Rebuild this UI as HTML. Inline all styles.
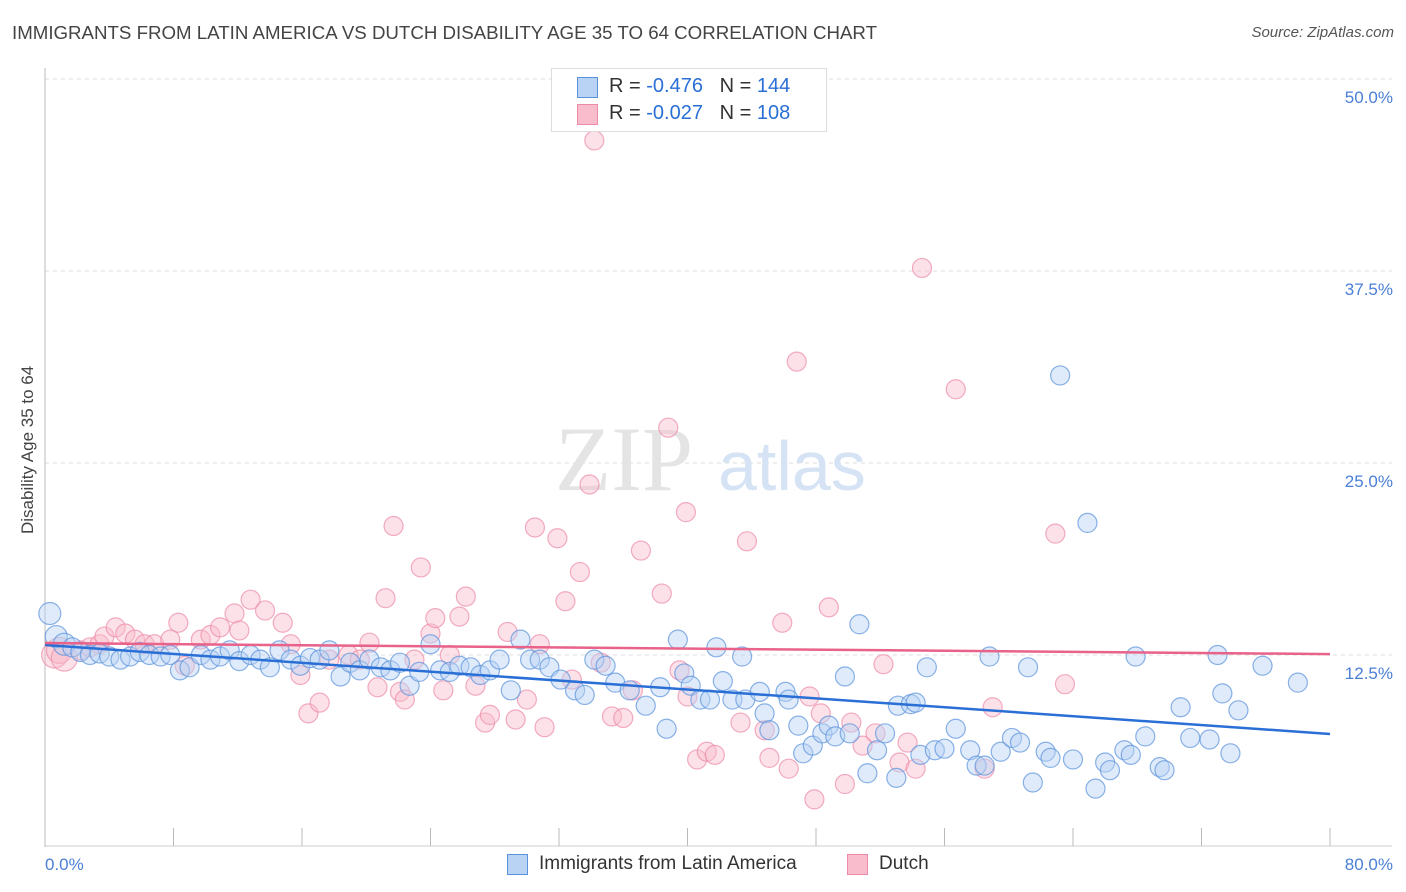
<!DOCTYPE html>
<html><head><meta charset="utf-8">
<style>
body{margin:0;background:#fff;font-family:"Liberation Sans",sans-serif;}
#wrap{position:relative;width:1406px;height:892px;overflow:hidden;}
.t{position:absolute;white-space:nowrap;}
</style></head><body>
<div id="wrap">
<div class="t" style="left:12px;top:22px;font-size:18.7px;color:#444;">IMMIGRANTS FROM LATIN AMERICA VS DUTCH DISABILITY AGE 35 TO 64 CORRELATION CHART</div>
<div class="t" style="right:12px;top:24px;font-size:15px;color:#555;font-style:italic;">Source: ZipAtlas.com</div>
<div class="t" style="left:-52px;top:444px;font-size:17px;color:#444;transform:rotate(-90deg);width:160px;text-align:center;">Disability Age 35 to 64</div>
<svg id="svg" width="1406" height="892" style="position:absolute;left:0;top:0"></svg>
</div>
<script>
const yTicks=[12.5,25,37.5,50];
const yTickLabels=["12.5%","25.0%","37.5%","50.0%"];
const xTickLabels=["0.0%","80.0%"];
const blueX=[0.3,0.7,1.2,1.7,2.2,2.8,3.4,4.0,4.7,5.3,5.9,6.5,7.2,7.8,8.4,9.0,9.7,10.3,10.9,11.5,12.1,12.8,13.4,14.0,14.6,15.3,15.9,16.5,17.1,17.7,18.4,19.0,19.6,20.2,20.9,21.5,22.1,22.7,23.3,24.0,24.6,25.2,25.8,26.5,27.1,27.7,28.3,29.0,29.6,30.2,30.8,31.4,32.1,33.0,33.6,34.2,34.9,35.5,36.4,37.4,38.3,38.7,39.4,39.8,40.2,40.8,41.4,41.8,42.2,42.8,43.6,43.4,44.5,44.8,45.1,46.1,46.3,46.9,47.2,47.8,48.4,48.8,49.2,49.8,50.1,50.7,51.2,51.8,52.3,53.0,53.1,53.9,54.2,54.5,54.9,55.4,56.0,56.7,57.6,58.0,58.5,58.8,59.5,60.2,60.7,61.2,61.5,62.3,62.6,63.2,64.0,64.9,65.4,66.0,66.3,67.2,67.6,67.9,68.5,69.4,69.7,70.7,71.3,72.5,73.0,73.3,73.8,74.3,75.8,78.0];
const blueY=[15.2,13.7,13.2,13.0,12.7,12.5,12.6,12.4,12.2,12.4,12.7,12.5,12.4,12.5,11.5,11.7,12.5,12.2,12.4,12.8,12.1,12.5,12.2,11.7,12.8,12.2,11.8,12.3,12.2,12.8,11.1,12.0,11.5,12.2,11.7,11.5,12.0,10.5,11.4,13.2,11.5,11.4,11.8,11.7,11.2,11.5,12.2,10.2,13.5,12.2,12.2,11.7,10.9,10.2,9.9,12.2,11.8,10.7,10.2,9.2,10.4,7.7,13.5,11.3,10.5,9.6,9.6,13.0,10.8,9.6,9.6,12.4,10.1,8.7,7.6,10.1,9.6,7.9,6.1,6.6,7.4,7.9,7.2,11.1,7.4,14.5,4.8,6.3,7.4,4.5,9.2,9.3,9.4,6.0,11.7,6.3,6.4,7.7,6.3,5.3,5.3,12.4,6.2,7.1,6.8,11.7,4.2,6.2,5.8,30.7,5.7,21.1,3.8,5.5,5.0,6.3,6.0,12.4,7.2,5.2,5.0,9.1,7.1,7.0,12.5,10.0,6.1,8.9,11.8,10.7];
const pinkX=[0.6,0.9,1.2,2.2,2.8,3.4,3.7,4.4,5.0,5.6,6.2,6.8,7.8,8.3,8.7,9.7,10.3,10.9,11.8,12.1,12.8,13.7,14.8,15.3,15.9,16.4,17.1,17.7,18.9,19.6,20.2,20.7,21.2,21.7,22.1,22.4,23.0,23.4,24.0,24.3,24.8,25.2,25.8,26.2,26.8,27.4,27.7,28.8,29.3,30.0,30.5,30.8,31.1,31.9,32.4,32.8,33.3,33.9,34.2,34.6,35.3,36.0,36.6,37.1,38.4,38.8,39.5,39.9,40.0,40.6,41.2,41.7,43.3,43.7,44.8,45.1,45.9,46.3,46.8,47.6,47.9,48.3,48.8,49.8,50.2,50.9,51.7,52.2,53.2,53.7,54.2,54.6,56.7,58.5,59.0,62.9,63.5];
const pinkY=[12.5,12.8,12.3,12.8,13.0,13.2,13.7,14.3,13.9,13.5,13.2,13.2,13.5,14.6,11.8,13.5,13.8,14.3,15.2,14.1,16.1,15.4,14.6,13.2,11.2,8.7,9.4,12.2,12.5,12.2,13.3,10.4,16.2,20.9,10.1,9.6,12.2,18.2,13.9,14.9,10.2,12.5,15.0,16.3,10.5,8.1,8.6,14.0,8.3,9.6,20.8,13.2,7.8,20.1,16.0,10.9,17.9,23.6,46.0,12.0,8.5,8.4,10.2,19.3,16.5,27.3,11.5,21.8,9.8,5.7,6.2,6.0,8.1,19.9,7.6,5.8,14.6,5.1,31.6,9.8,3.1,8.7,15.6,4.1,8.1,6.6,7.4,11.9,5.5,6.8,5.1,37.7,29.8,5.1,9.1,20.4,10.6];
const blueTrend=[13.15,7.36];
const pinkTrend=[13.28,12.56];
const X0=45,X1=1330,Y0=847,PPY=192/12.5;
const sx=v=>X0+(X1-X0)*v/80;
const sy=v=>Y0-v*PPY;
const svg=document.getElementById('svg');
const NS='http://www.w3.org/2000/svg';
function mk(tag,attrs,parent){const e=document.createElementNS(NS,tag);for(const k in attrs)e.setAttribute(k,attrs[k]);(parent||svg).appendChild(e);return e;}
yTicks.forEach((t,i)=>{
 const g=mk('line',{x1:45,x2:1392,y1:sy(t),y2:sy(t),stroke:'#ddd','stroke-dasharray':'4,4'});
 
 
 const tx=mk('text',{x:1393,y:sy(t)+24,'text-anchor':'end','font-size':17,fill:'#4a7fd6','font-family':'Liberation Sans, sans-serif'});
 tx.textContent=yTickLabels[i];
 
 
});
const ax=mk('line',{x1:45,x2:45,y1:68,y2:847,stroke:'#bbb'});


const bx=mk('line',{x1:45,x2:1392,y1:846,y2:846,stroke:'#ccc'});


for(let i=0;i<=10;i++){
 const tk=mk('line',{x1:sx(i*8),x2:sx(i*8),y1:828,y2:846,stroke:'#bbb'});
 
 
}
[[45,'start',0],[1393,'end',1]].forEach(([x,a,i])=>{
 const t=mk('text',{x:x,y:870,'text-anchor':a,'font-size':17,fill:'#4a7fd6','font-family':'Liberation Sans, sans-serif'});
 t.textContent=xTickLabels[i];
 
 
});
const wm=mk('text',{x:555,y:490,'font-size':92,fill:'#e4e4e4','font-family':'Liberation Serif, serif'});
wm.textContent='ZIP';


const wm2=mk('text',{x:718,y:490,'font-size':70,fill:'#d5e3f5','font-family':'Liberation Sans, sans-serif'});
wm2.textContent='atlas';


function pts(xs,ys,fill,stroke,name){
 xs.forEach((x,i)=>{
  const r=i<3?(name==='pink-point'?13:11):9.5;
  const c=mk('circle',{cx:sx(x),cy:sy(ys[i]),r:r,fill:fill,'fill-opacity':0.45,stroke:stroke,'stroke-opacity':0.7,'stroke-width':1.2});
  
  
 });
}
pts(pinkX,pinkY,'#f8bccd','#ec8aa8','pink-point');
pts(blueX,blueY,'#b8d3f3','#5a92dc','blue-point');
const bl=mk('line',{x1:sx(0),y1:sy(blueTrend[0]),x2:sx(80),y2:sy(blueTrend[1]),stroke:'#2a6fd6','stroke-width':2.5});


const pl=mk('line',{x1:sx(0),y1:sy(pinkTrend[0]),x2:sx(80),y2:sy(pinkTrend[1]),stroke:'#e8628a','stroke-width':2.5});


</script>
<div style="position:absolute;left:551px;top:68px;width:274px;height:62px;border:1px solid #ddd;background:#fff;font-size:20px;">
 <div style="position:absolute;left:25px;top:8px;width:19px;height:19px;background:#b8d3f3;border:1px solid #5a92dc;"></div>
 <div class="t" style="left:57px;top:6px;color:#333;">R = <span style="color:#2a6fd6">-0.476</span>&nbsp;&nbsp;&nbsp;N = <span style="color:#2a6fd6">144</span></div>
 <div style="position:absolute;left:25px;top:35px;width:19px;height:19px;background:#f8bccd;border:1px solid #ec8aa8;"></div>
 <div class="t" style="left:57px;top:33px;color:#333;">R = <span style="color:#2a6fd6">-0.027</span>&nbsp;&nbsp;&nbsp;N = <span style="color:#2a6fd6">108</span></div>
</div>
<div style="position:absolute;left:507px;top:853px;font-size:19px;color:#333;">
 <div style="position:absolute;left:0;top:1px;width:19px;height:19px;background:#b8d3f3;border:1px solid #5a92dc;"></div>
 <div class="t" style="left:32px;top:0;">Immigrants from Latin America</div>
</div>
<div style="position:absolute;left:847px;top:853px;font-size:19px;color:#333;">
 <div style="position:absolute;left:0;top:1px;width:19px;height:19px;background:#f8bccd;border:1px solid #ec8aa8;"></div>
 <div class="t" style="left:32px;top:0;">Dutch</div>
</div>
</body></html>
